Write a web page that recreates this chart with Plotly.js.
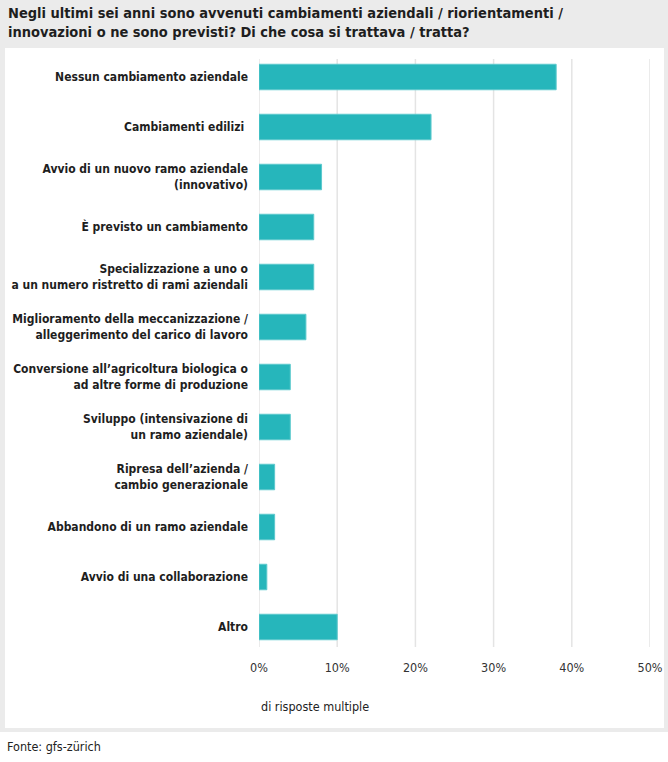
<!DOCTYPE html>
<html>
<head>
<meta charset="utf-8">
<script src="https://cdn.plot.ly/plotly-3.0.1.min.js"></script>
<style>
  html, body { margin: 0; padding: 0; background: #ffffff; }
  #wrap { position: relative; width: 668px; height: 762px; overflow: hidden; }
  #bgGray { position: absolute; left: 0; top: 0; width: 668px; height: 732px; background: #ebebeb; }
  #bgWhite { position: absolute; left: 5px; top: 48px; width: 659px; height: 680px; background: #ffffff; }
  #chart { position: absolute; left: 0; top: 0; width: 668px; height: 762px; }
</style>
</head>
<body>
<div id="wrap">
  <div id="bgGray"></div>
  <div id="bgWhite"></div>
  <div id="chart"></div>
</div>
<script>
const categories = [
  "Nessun cambiamento aziendale",
  "Cambiamenti edilizi ",
  "Avvio di un nuovo ramo aziendale<br>(innovativo)",
  "È previsto un cambiamento",
  "Specializzazione a uno o<br>a un numero ristretto di rami aziendali",
  "Miglioramento della meccanizzazione /<br>alleggerimento del carico di lavoro",
  "Conversione all’agricoltura biologica o<br>ad altre forme di produzione",
  "Sviluppo (intensivazione di<br>un ramo aziendale)",
  "Ripresa dell’azienda /<br>cambio generazionale",
  "Abbandono di un ramo aziendale",
  "Avvio di una collaborazione",
  "Altro"
];
const values = [38, 22, 8, 7, 7, 6, 4, 4, 2, 2, 1, 10];
const tickValues = [0, 10, 20, 30, 40, 50];
const tickLabels = ["0%", "10%", "20%", "30%", "40%", "50%"];
const titleText = "Negli ultimi sei anni sono avvenuti cambiamenti aziendali / riorientamenti /<br>innovazioni o ne sono previsti? Di che cosa si trattava / tratta?";
const noteText = "di risposte multiple";
const sourceText = "Fonte: gfs-zürich";

const FONT = "'DejaVu Sans Condensed', 'Liberation Sans', sans-serif";

const W = 668, H = 762;
const L = 259, R = 18, T = 52, B = 110;
const plotW = W - L - R, plotH = H - T - B;
const px2x = (px) => (px - L) / plotW;
const py2y = (py) => (H - B - py) / plotH;

const gridShapes = tickValues.map(v => ({
  type: 'line', xref: 'x', yref: 'paper',
  x0: v, x1: v, y0: py2y(647), y1: py2y(59),
  line: { color: '#e4e4e4', width: 1.5 },
  layer: 'below'
}));

const trace = {
  type: 'bar',
  orientation: 'h',
  x: values,
  y: categories,
  marker: { color: '#26b6bb', line: { color: '#5cc9cd', width: 1 } },
  hoverinfo: 'skip'
};

const layout = {
  width: W, height: H,
  margin: { l: L, r: R, t: T, b: B, pad: 0 },
  paper_bgcolor: 'rgba(0,0,0,0)',
  plot_bgcolor: 'rgba(0,0,0,0)',
  font: { family: FONT, color: '#222222', size: 12 },
  bargap: 0.49,
  showlegend: false,
  xaxis: {
    range: [0, 50],
    tickvals: tickValues,
    ticktext: tickLabels,
    showgrid: false,
    zeroline: false,
    showline: false,
    ticks: '',
    tickfont: { family: FONT, size: 12.5, color: '#333333' },
    ticklabelstandoff: 6,
    fixedrange: true
  },
  yaxis: {
    type: 'category',
    categoryorder: 'array',
    categoryarray: categories,
    range: [categories.length - 0.5, -0.5],
    showgrid: false,
    zeroline: false,
    showline: false,
    ticks: '',
    tickfont: { family: FONT, size: 12, color: '#1e1e1e', weight: 'bold' },
    ticklabelstandoff: 10,
    fixedrange: true
  },
  shapes: gridShapes,
  annotations: [
    {
      text: titleText, xref: 'paper', yref: 'paper',
      x: px2x(6), y: py2y(3), xanchor: 'left', yanchor: 'top', align: 'left',
      showarrow: false, font: { family: FONT, size: 14.5, color: '#1e1e1e', weight: 'bold' }
    },
    {
      text: noteText, xref: 'paper', yref: 'paper',
      x: 0, y: py2y(707), xanchor: 'left', yanchor: 'middle',
      showarrow: false, font: { family: FONT, size: 12.5, color: '#222222' }
    },
    {
      text: sourceText, xref: 'paper', yref: 'paper',
      x: px2x(5), y: py2y(746), xanchor: 'left', yanchor: 'middle',
      showarrow: false, font: { family: FONT, size: 12.5, color: '#222222' }
    }
  ]
};

Plotly.newPlot('chart', [trace], layout, { displayModeBar: false, staticPlot: true });
</script>
</body>
</html>
